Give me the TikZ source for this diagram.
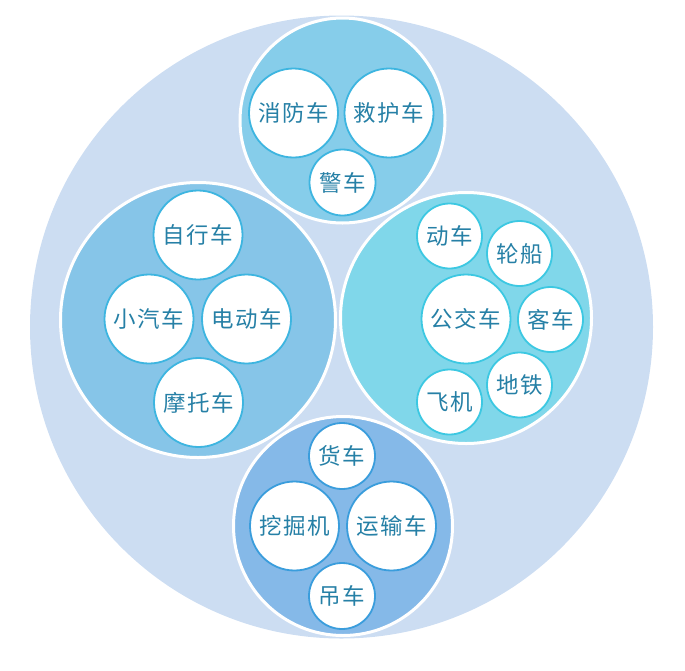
\documentclass[tikz,border=0pt]{standalone}
\usepackage{fontspec}
\newfontfamily\cjk[LetterSpace=6]{Noto Sans CJK SC}
\definecolor{bgc}{HTML}{CCDDF2}
\definecolor{topc}{HTML}{86CDEA}
\definecolor{leftc}{HTML}{86C5E8}
\definecolor{rightc}{HTML}{80D7EA}
\definecolor{botc}{HTML}{85B9E8}
\definecolor{txtc}{HTML}{2680A6}
\definecolor{edgeA}{HTML}{3DB5E0}
\definecolor{edgeB}{HTML}{3CC8E2}
\definecolor{edgeC}{HTML}{3A9DDC}
\tikzset{
  grp/.style={circle, draw=white, line width=3pt, inner sep=0pt},
  item/.style={circle, fill=white, draw=#1, line width=1.8pt, inner sep=0pt,
    font=\cjk\fontsize{22.5}{22.5}\selectfont, text=txtc},
}
\begin{document}
\begin{tikzpicture}[x=1pt,y=-1pt]
\useasboundingbox (0,0) rectangle (685,670);
\node[circle, fill=bgc, inner sep=0pt, minimum size=623pt] (bg) at (341.5,327) {};
% groups
\node[grp, fill=topc, minimum size=205pt] (gtop) at (342.5,120.5) {};
\node[grp, fill=leftc, minimum size=275pt] (gleft) at (198,320) {};
\node[grp, fill=rightc, minimum size=251pt] (gright) at (466,318) {};
\node[grp, fill=botc, minimum size=219pt] (gbot) at (343,526) {};
% top
\node[item=edgeA, minimum size=89pt] (xfc) at (293.5,113) {消防车};
\node[item=edgeA, minimum size=89pt] (jhc) at (389,113) {救护车};
\node[item=edgeA, minimum size=66pt] (jc) at (342.5,182.5) {警车};
% left
\node[item=edgeA, minimum size=89pt] (zxc) at (198,235) {自行车};
\node[item=edgeA, minimum size=89pt] (xqc) at (149,319) {小汽车};
\node[item=edgeA, minimum size=89pt] (ddc) at (246.5,319) {电动车};
\node[item=edgeA, minimum size=89pt] (mtc) at (198.5,402.5) {摩托车};
% right
\node[item=edgeB, minimum size=65pt] (dc) at (449.5,236) {动车};
\node[item=edgeB, minimum size=65pt] (lc) at (519.5,253.5) {轮船};
\node[item=edgeB, minimum size=89pt] (gjc) at (466,319) {公交车};
\node[item=edgeB, minimum size=65pt] (kc) at (550.5,319.5) {客车};
\node[item=edgeB, minimum size=65pt] (dt) at (519.5,385) {地铁};
\node[item=edgeB, minimum size=65pt] (fj) at (449.5,402) {飞机};
% bottom
\node[item=edgeC, minimum size=66pt] (hc) at (342,456) {货车};
\node[item=edgeC, minimum size=89pt] (wjj) at (294.5,526) {挖掘机};
\node[item=edgeC, minimum size=89pt] (ysc) at (391.5,526) {运输车};
\node[item=edgeC, minimum size=66pt] (dcar) at (342,596) {吊车};
\end{tikzpicture}
\end{document}
